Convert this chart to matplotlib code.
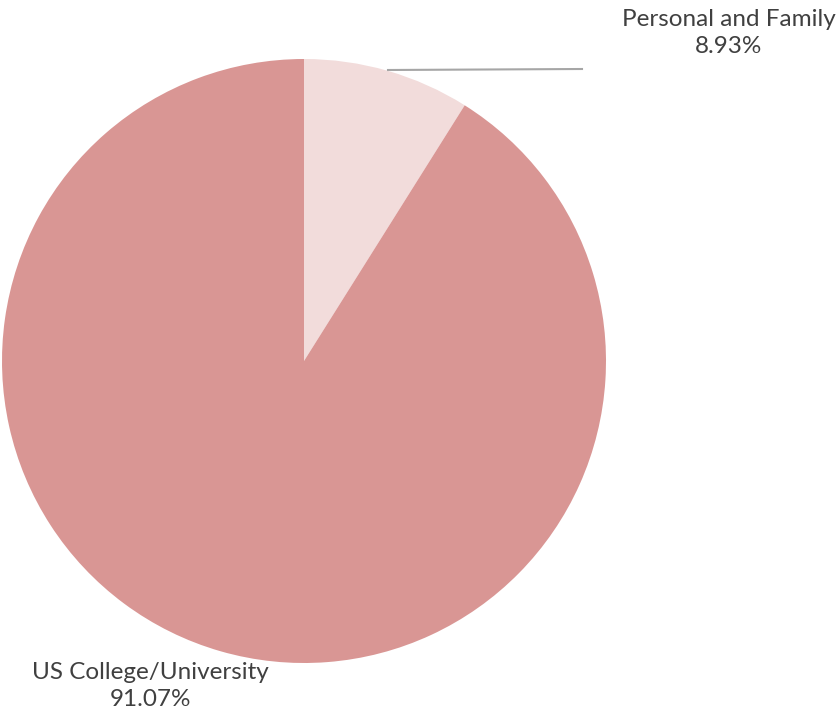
import matplotlib
matplotlib.use("Agg")
import matplotlib.pyplot as plt

labels = ["Personal and Family", "US College/University"]
values = [8.93, 91.07]
colors = ["#F2DCDB", "#D99694"]

W, H = 838, 715
fig = plt.figure(figsize=(W/100, H/100), dpi=100)
ax = fig.add_axes([0, 0, 1, 1])
ax.set_xlim(0, W)
ax.set_ylim(0, H)
ax.set_aspect("equal")
ax.axis("off")

cx, cy, r = 304, H - 361, 302
ax.pie(values, colors=colors, startangle=90, counterclock=False,
       center=(cx, cy), radius=r, frame=True,
       wedgeprops=dict(linewidth=0))
ax.set_xlim(0, W)
ax.set_ylim(0, H)
ax.axis("off")

font = dict(family=["Lato", "DejaVu Sans"], fontsize=17.5, color="#404040",
            ha="center", va="center", linespacing=1.4)
ax.text(729, H - 33, f"{labels[0]}\n{values[0]:.2f}%", **font)
ax.text(150, H - 686, f"{labels[1]}\n{values[1]:.2f}%", **font)

ax.plot([388, 582], [H - 70, H - 69], color="#A6A6A6", linewidth=1.5)

fig.savefig("out.png", dpi=100)
